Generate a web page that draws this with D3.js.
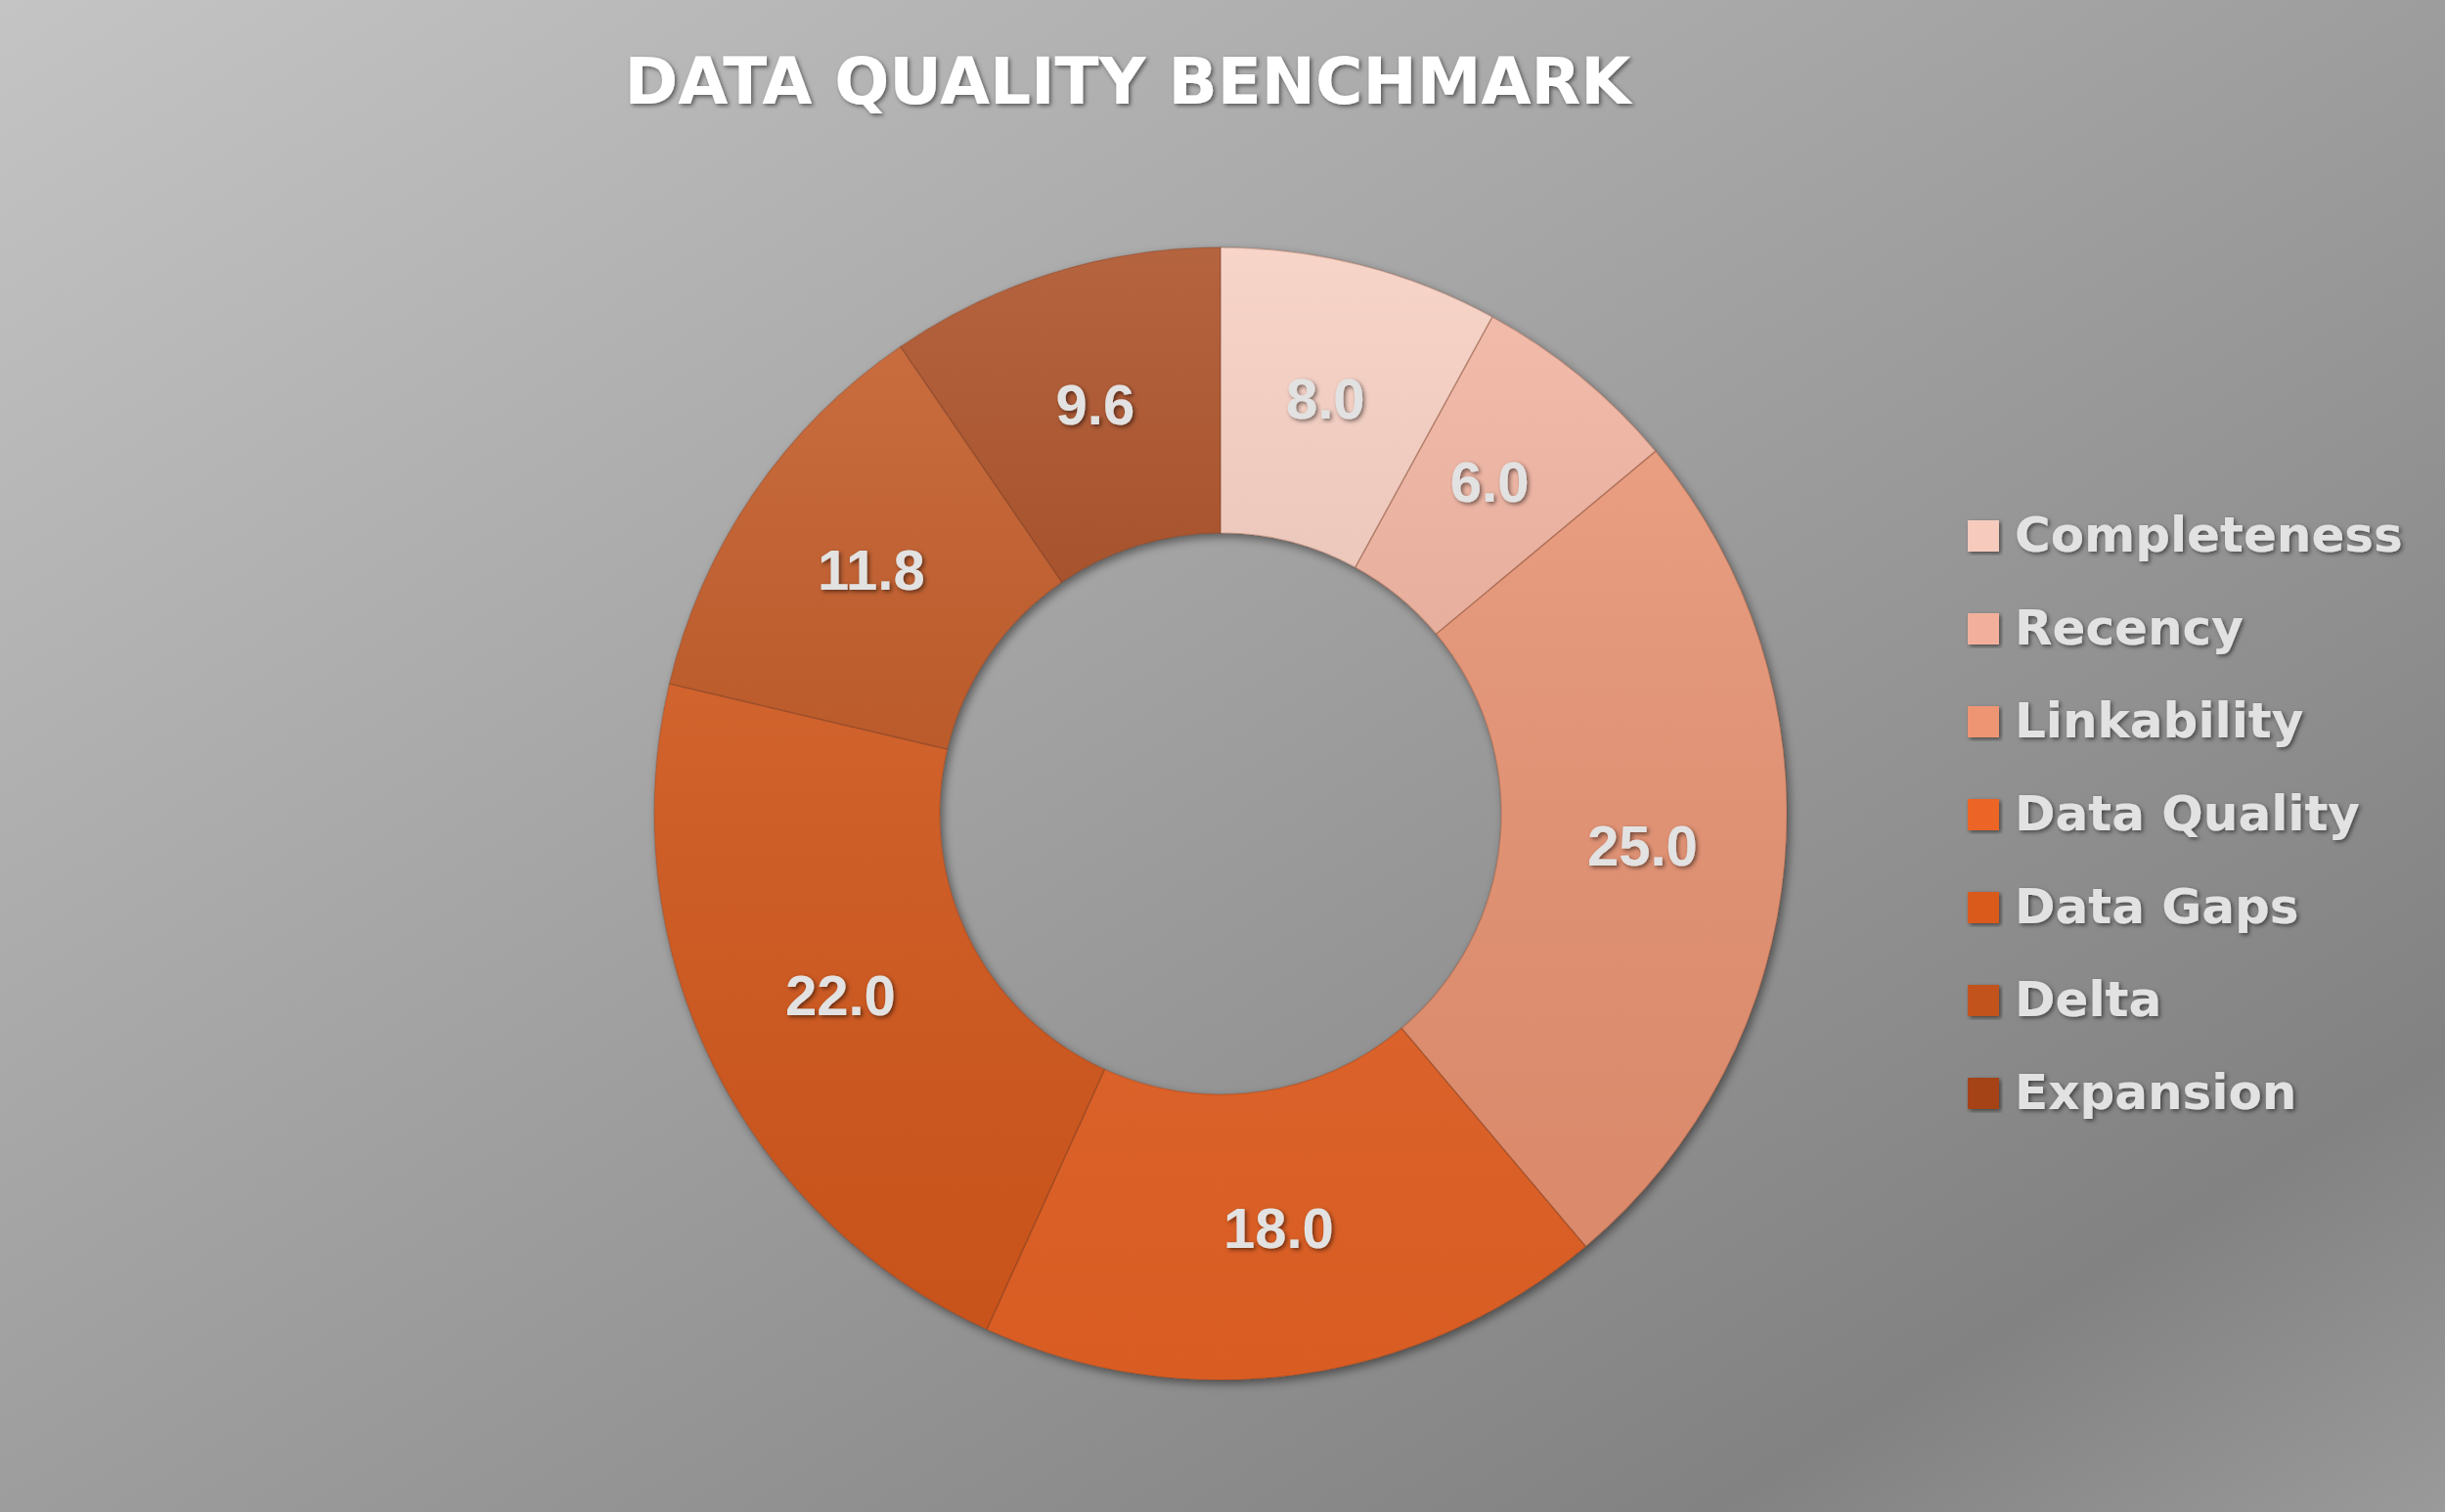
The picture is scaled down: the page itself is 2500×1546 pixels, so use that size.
<!DOCTYPE html>
<html><head><meta charset="utf-8">
<script src="https://cdn.jsdelivr.net/npm/d3@7"></script>
<style>body{margin:0;overflow:hidden}svg{display:block}</style>
</head><body>
<script>
const categories = ['Completeness', 'Recency', 'Linkability', 'Data Quality', 'Data Gaps', 'Delta', 'Expansion'];
const values = [8.0, 6.0, 25.0, 18.0, 22.0, 11.8, 9.6];
const colors = ['#f6cbbd', '#f2b09c', '#ee9573', '#ec6525', '#da5a1f', '#c2521d', '#a54219'];

const W = 2500, H = 1546, cx = 1248, cy = 832, rOut = 579, rIn = 287;

const svg = d3.select('body').append('svg').attr('width', W).attr('height', H);
const defs = svg.append('defs');

const bg = defs.append('linearGradient').attr('id', 'bg').attr('x1', 0).attr('y1', 0).attr('x2', 1).attr('y2', 1);
bg.append('stop').attr('offset', 0).attr('stop-color', '#c4c4c4');
bg.append('stop').attr('offset', 0.85).attr('stop-color', '#828282');
bg.append('stop').attr('offset', 1).attr('stop-color', '#9a9a9a');

const shade = defs.append('linearGradient').attr('id', 'shade').attr('x1', 0).attr('y1', 0).attr('x2', 0).attr('y2', 1);
shade.append('stop').attr('offset', 0).attr('stop-color', '#fff').attr('stop-opacity', 0.18);
shade.append('stop').attr('offset', 1).attr('stop-color', '#000').attr('stop-opacity', 0.08);

const sh = defs.append('filter').attr('id', 'sh').attr('x', -0.2).attr('y', -0.2).attr('width', 1.4).attr('height', 1.4);
sh.append('feDropShadow').attr('dx', 3).attr('dy', 4).attr('stdDeviation', 5).attr('flood-opacity', 0.45);
const ts = defs.append('filter').attr('id', 'ts');
ts.append('feDropShadow').attr('dx', 2).attr('dy', 2).attr('stdDeviation', 2).attr('flood-opacity', 0.5);

svg.append('rect').attr('width', W).attr('height', H).attr('fill', 'url(#bg)');

svg.append('text').attr('x', 1153).attr('y', 88).attr('text-anchor', 'middle').attr('dominant-baseline', 'middle')
  .attr('font-family', 'DejaVu Sans').attr('font-weight', 'bold').attr('font-size', 66).attr('fill', '#fff')
  .attr('filter', 'url(#ts)').text('DATA QUALITY BENCHMARK');

const pie = d3.pie().sort(null)(values);
const arc = d3.arc().innerRadius(rIn).outerRadius(rOut);
const g = svg.append('g').attr('transform', `translate(${cx},${cy})`);
const slices = g.append('g').attr('filter', 'url(#sh)');
slices.selectAll('path').data(pie).join('path').attr('d', arc).attr('fill', (d, i) => colors[i]);
g.append('path').attr('d', d3.arc().innerRadius(rIn).outerRadius(rOut).startAngle(0).endAngle(2 * Math.PI)())
  .attr('fill', 'url(#shade)').attr('pointer-events', 'none');
g.append('g').selectAll('path').data(pie).join('path').attr('d', arc)
  .attr('fill', 'none').attr('stroke', 'rgba(120,60,30,0.25)').attr('stroke-width', 1.5);

const labelArc = d3.arc().innerRadius((rIn + rOut) / 2).outerRadius((rIn + rOut) / 2);
g.selectAll('text').data(pie).join('text')
  .attr('transform', d => `translate(${labelArc.centroid(d)})`)
  .attr('text-anchor', 'middle').attr('dominant-baseline', 'middle')
  .attr('font-family', 'Liberation Sans').attr('font-weight', 'bold').attr('font-size', 58)
  .attr('fill', '#e2e2e2').attr('filter', 'url(#ts)').text(d => d.data.toFixed(1));

const leg = svg.append('g').selectAll('g').data(categories).join('g')
  .attr('transform', (d, i) => `translate(2012,${548 + i * 95})`);
leg.append('rect').attr('x', 0).attr('y', -16).attr('width', 32).attr('height', 32)
  .attr('fill', (d, i) => colors[i]).attr('filter', 'url(#ts)');
leg.append('text').attr('x', 48).attr('y', 2).attr('dominant-baseline', 'middle')
  .attr('font-family', 'DejaVu Sans').attr('font-weight', 'bold').attr('font-size', 50)
  .attr('fill', '#e2e2e2').attr('filter', 'url(#ts)').text(d => d);
</script>
</body></html>
